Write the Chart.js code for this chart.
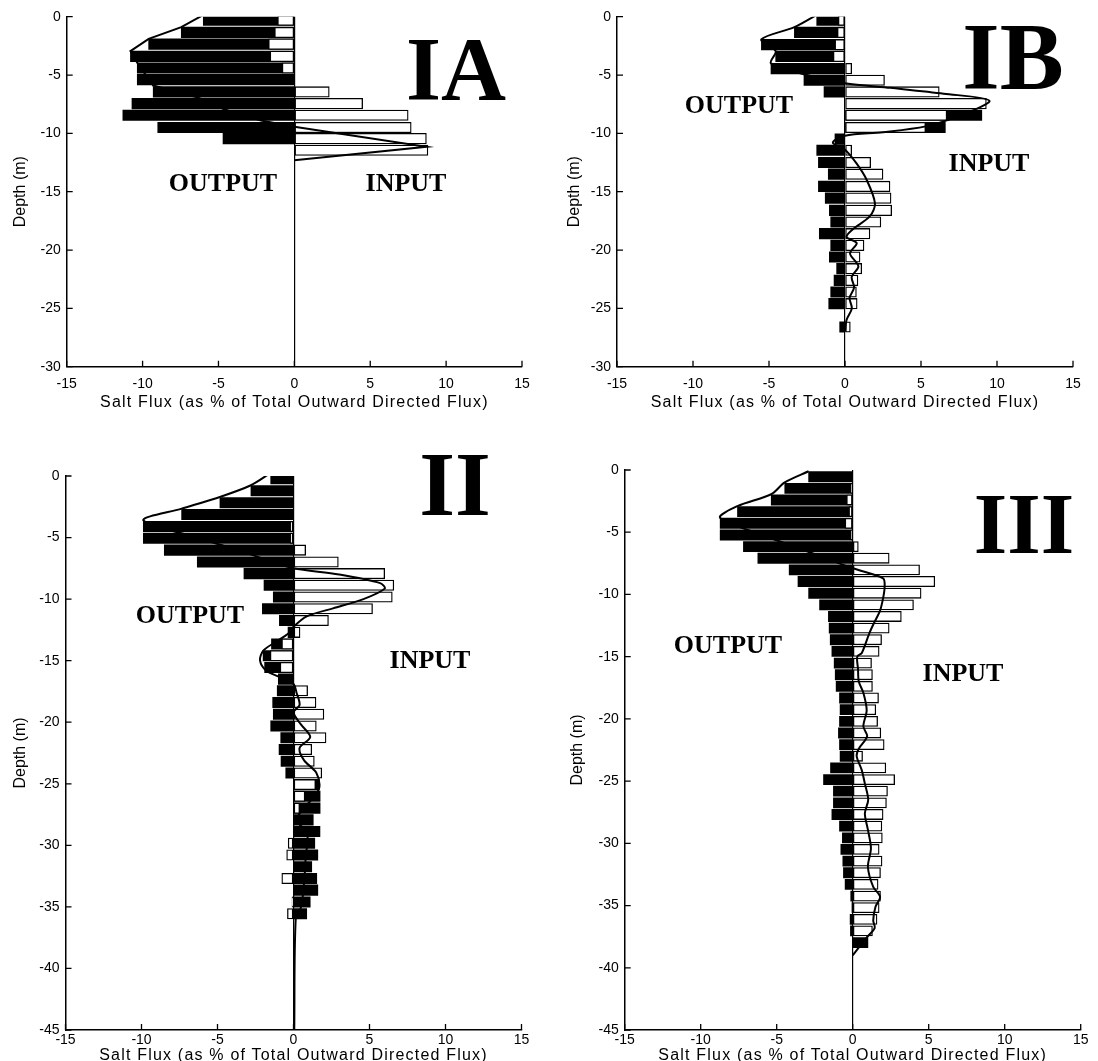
<!DOCTYPE html>
<html>
<head>
<meta charset="utf-8">
<script src="https://cdn.jsdelivr.net/npm/chart.js@4/dist/chart.umd.min.js"></script>
<style>
  html, body { margin: 0; padding: 0; background: #fff; }
  #stage { position: relative; width: 1098px; height: 1061px; overflow: hidden; background: #fff; }
  .pane { position: absolute; }
  .lbl { position: absolute; font-family: 'Liberation Serif', 'Times New Roman', serif; font-weight: bold; color: #000; line-height: 1; white-space: nowrap; transform: translate(-50%, -50%); }
  .xt { position: absolute; font-family: 'Liberation Sans', Arial, sans-serif; font-size: 16px; letter-spacing: 1.2px; color: #000; line-height: 1; white-space: nowrap; transform: translate(-50%, -50%); }
</style>
</head>
<body>
<div id="stage"></div>
<script>
// ---------------- DATA ----------------
const xTitle = 'Salt Flux (as % of Total Outward Directed Flux)';
const yTitle = 'Depth (m)';

// Panel IA
const depthIA = [-0.3,-1.35,-2.35,-3.4,-4.4,-5.4,-6.45,-7.45,-8.45,-9.5,-10.45,-11.45];
const outIA   = [-6.0,-7.45,-9.6,-10.8,-10.35,-10.35,-9.3,-10.7,-11.3,-9.0,-4.7,0];
const inIA    = [-1.1,-1.3,-1.7,-1.6,-0.8,0,2.3,4.5,7.5,7.7,8.7,8.8];
const netIAx  = [-6.0,-7.45,-9.6,-10.8,-10.35,-9.3,-6.4,-4.7,-2.2,0,8.7,0];
const netIAy  = [0.15,-0.9,-1.9,-2.95,-3.95,-5.9,-6.9,-7.9,-8.9,-9.43,-11.15,-12.3];

// Panel IB
const depthIB = [-0.3,-1.35,-2.4,-3.4,-4.45,-5.45,-6.45,-7.45,-8.45,-9.5,-10.5,-11.45,-12.5,-13.5,-14.55,-15.55,-16.6,-17.6,-18.6,-19.6,-20.6,-21.6,-22.6,-23.6,-24.6,-26.6];
const outIB   = [-1.86,-3.33,-5.5,-4.56,-4.87,-2.7,-1.38,0,9.0,6.6,-0.66,-1.86,-1.75,-1.1,-1.75,-1.3,-1.03,-0.94,-1.69,-0.94,-1.03,-0.55,-0.72,-0.94,-1.07,-0.35];
const inIB    = [-0.44,-0.5,-0.66,-0.77,0.44,2.6,6.2,9.3,6.7,5.3,0,0.44,1.69,2.5,2.96,3.03,3.07,2.36,1.64,1.25,0.99,1.1,0.85,0.75,0.8,0.35];
const netIBx  = [-1.86,-3.33,-5.5,-4.56,-4.87,-2.5,0,3.0,6.5,9.5,7.5,5.3,2.5,0,-0.8,0,0.77,1.43,1.97,1.64,0.44,0.11,0.77,0.33,0.88,0.44,0.6,0.3,0.45,0.1,0];
const netIBy  = [0.15,-0.9,-1.95,-2.95,-4.0,-5.0,-5.7,-6.1,-6.6,-7.2,-8.5,-9.4,-9.9,-10.2,-10.8,-11.4,-12.6,-14.0,-16.0,-17.1,-18.3,-18.9,-19.4,-20.3,-21.4,-22.3,-23.2,-24.1,-25.0,-26.0,-27.0];

// Panel II
const depthII = [-0.22,-1.2,-2.17,-3.13,-4.1,-5.05,-6.02,-6.98,-7.93,-8.88,-9.83,-10.79,-11.74,-12.7,-13.65,-14.6,-15.55,-16.5,-17.45,-18.4,-19.36,-20.31,-21.26,-22.21,-23.17,-24.12,-25.07,-26.02,-26.98,-27.93,-28.88,-29.83,-30.79,-31.74,-32.69,-33.64,-34.6,-35.55];
const outII   = [-1.5,-2.8,-4.84,-7.36,-9.88,-9.88,-8.5,-6.33,-3.26,-1.94,-1.33,-2.05,-0.93,-0.36,-1.45,-2.0,-1.9,-1.0,-1.07,-1.37,-1.33,-1.5,-0.84,-0.95,-0.82,-0.51,1.7,1.75,1.75,1.3,1.74,1.4,1.6,1.2,1.53,1.6,1.1,0.87];
const inII    = [0,0,0,0,-0.23,-0.23,0.8,2.95,6.0,6.6,6.5,5.2,2.3,0.43,-0.77,-1.53,-0.88,0,0.93,1.48,2.0,1.5,2.14,1.2,1.37,1.86,1.45,0.75,0.4,0,0,-0.35,-0.45,0,-0.77,0,-0.1,-0.4];
const netIIx  = [-1.5,-2.8,-4.84,-7.36,-9.88,-6.4,-3.7,-1.3,0,3.0,5.7,6.0,4.6,2.6,0.87,0,-0.34,-1.2,-2.0,-2.2,-1.8,-0.8,0,0.2,0.4,0,0.5,1.1,0.4,0.7,1.5,1.7,1.3,0.2,0.9,0.8,0.7,0.5,0.15,0.05];
const netIIy  = [0.25,-0.75,-1.7,-2.65,-3.6,-5.0,-6.0,-7.0,-7.5,-8.0,-8.7,-9.15,-10.0,-10.75,-11.4,-12.25,-12.8,-13.5,-14.2,-15.0,-15.8,-16.4,-16.9,-17.6,-18.6,-19.2,-20.2,-21.2,-22.1,-23.1,-24.1,-25.3,-26.1,-27.9,-29.0,-31.0,-33.0,-35.0,-35.9,-45];

// Panel III
const depthIII = [-0.54,-1.48,-2.41,-3.35,-4.28,-5.22,-6.16,-7.09,-8.03,-8.96,-9.9,-10.84,-11.77,-12.71,-13.64,-14.58,-15.52,-16.45,-17.39,-18.32,-19.26,-20.2,-21.13,-22.07,-23.0,-23.94,-24.88,-25.81,-26.75,-27.68,-28.62,-29.56,-30.49,-31.43,-32.36,-33.3,-34.24,-35.17,-36.11,-37.04,-37.98];
const outIII  = [-2.9,-4.47,-5.36,-7.58,-8.72,-8.72,-7.19,-6.24,-4.18,-3.6,-2.9,-2.18,-1.6,-1.55,-1.48,-1.37,-1.22,-1.15,-1.09,-0.87,-0.83,-0.87,-0.94,-0.87,-0.83,-1.46,-1.92,-1.27,-1.27,-1.37,-0.87,-0.68,-0.78,-0.65,-0.61,-0.5,-0.13,-0.05,-0.17,-0.15,1.0];
const inIII   = [0,-0.1,-0.4,-0.25,-0.5,-0.1,0.37,2.4,4.4,5.4,4.5,4.0,3.2,2.4,1.9,1.74,1.24,1.3,1.3,1.7,1.52,1.64,1.85,2.07,0.65,2.18,2.76,2.29,2.22,2.0,1.92,1.95,1.74,1.93,1.83,1.67,1.83,1.74,1.6,1.3,0];
const netIIIx = [-2.9,-4.47,-5.36,-7.58,-8.72,-5.8,-3.66,-1.57,0,2.0,2.1,2.0,1.8,1.4,1.1,0.6,0.3,0.35,0.4,0.7,0.92,0.7,0.95,0.4,0.26,0.59,0.8,1.02,0.8,1.0,1.2,1.0,1.35,1.8,1.5,1.35,1.45,0.9,0];
const netIIIy = [-0.1,-1.0,-1.95,-2.9,-3.85,-5.28,-6.24,-7.19,-7.9,-8.7,-9.4,-10.3,-11.3,-12.3,-13.1,-14.7,-15.0,-16.0,-17.0,-17.9,-19.3,-20.6,-21.4,-22.4,-23.0,-24.1,-25.2,-26.5,-27.6,-28.9,-30.4,-31.9,-33.5,-34.3,-35.1,-36.2,-36.8,-37.6,-39.0];

// ---------------- LAYOUT / STYLE ----------------
const tickFont = { family: "'Liberation Sans', Arial, sans-serif", size: 14 };
const titleFont = { family: "'Liberation Sans', Arial, sans-serif", size: 16 };

const panels = [
  { name:'IA', left:0, top:0, w:549, h:402, padL:7, plotL:66.7, plotT:16.7, plotR:522, plotB:366.7, ymin:-30, titleY:402, tickPad:9,
    depth:depthIA, out:outIA, inp:inIA, nx:netIAx, ny:netIAy, tension:0, bar:10.5 },
  { name:'IB', left:549, top:0, w:549, h:402, padL:12.4, plotL:68, plotT:16.7, plotR:524, plotB:366.7, ymin:-30, titleY:402, tickPad:9,
    depth:depthIB, out:outIB, inp:inIB, nx:netIBx, ny:netIBy, tension:0.3, bar:10.5 },
  { name:'II', left:0, top:402, w:549, h:659, padL:7, plotL:65.5, plotT:74, plotR:521.5, plotB:628, ymin:-45, titleY:1055, tickPad:2,
    depth:depthII, out:outII, inp:inII, nx:netIIx, ny:netIIy, tension:0.3, bar:10.4 },
  { name:'III', left:549, top:402, w:549, h:659, padL:15.4, plotL:75.7, plotT:68, plotR:531.7, plotB:628, ymin:-45, titleY:1055, tickPad:2,
    depth:depthIII, out:outIII, inp:inIII, nx:netIIIx, ny:netIIIy, tension:0.3, bar:10.2 }
];

const labels = [
  { t:'IA', x:456, y:70, s:90 },
  { t:'OUTPUT', x:223, y:183, s:26 },
  { t:'INPUT', x:406, y:183, s:26 },
  { t:'IB', x:1013, y:57, s:96 },
  { t:'OUTPUT', x:739, y:105, s:26 },
  { t:'INPUT', x:989, y:163, s:26 },
  { t:'II', x:455, y:484, s:92 },
  { t:'OUTPUT', x:190, y:615, s:26 },
  { t:'INPUT', x:430, y:660, s:26 },
  { t:'III', x:1024, y:524, s:86 },
  { t:'OUTPUT', x:728, y:645, s:26 },
  { t:'INPUT', x:963, y:673, s:26 }
];

// ---------------- DRAW ----------------
const inwardTicks = {
  id: 'inwardTicks',
  afterDraw(chart) {
    const ctx = chart.ctx, a = chart.chartArea;
    const xs = chart.scales.x, ys = chart.scales.y;
    ctx.save();
    ctx.strokeStyle = '#000';
    ctx.lineWidth = 1.3;
    ctx.beginPath();
    xs.ticks.forEach(t => {
      const p = xs.getPixelForValue(t.value);
      ctx.moveTo(p, a.bottom); ctx.lineTo(p, a.bottom - 6);
    });
    ys.ticks.forEach(t => {
      const p = ys.getPixelForValue(t.value);
      ctx.moveTo(a.left, p); ctx.lineTo(a.left + 6, p);
    });
    ctx.stroke();
    ctx.restore();
  }
};

function bars(depth, vals) {
  return depth.map((d, i) => ({ y: d, x: vals[i] === 0 ? null : vals[i] }));
}
function pts(xs, ys) {
  return xs.map((v, i) => ({ x: v, y: ys[i] }));
}

const stage = document.getElementById('stage');

panels.forEach(p => {
  const wrap = document.createElement('div');
  wrap.className = 'pane';
  wrap.style.left = p.left + 'px';
  wrap.style.top = p.top + 'px';
  wrap.style.width = p.w + 'px';
  wrap.style.height = p.h + 'px';
  const cv = document.createElement('canvas');
  cv.width = p.w; cv.height = p.h;
  cv.style.width = p.w + 'px'; cv.style.height = p.h + 'px';
  wrap.appendChild(cv);
  stage.appendChild(wrap);

  new Chart(cv, {
    type: 'bar',
    data: {
      datasets: [
        { type: 'line', label: 'Net', indexAxis: 'y', data: pts(p.nx, p.ny), borderColor: '#000', borderWidth: 2,
          pointRadius: 0, fill: false, tension: p.tension, order: 0 },
        { label: 'Input', data: bars(p.depth, p.inp), backgroundColor: '#fff', borderColor: '#000', borderWidth: 1.3,
          borderSkipped: false, grouped: false, barThickness: p.bar, order: 1 },
        { label: 'Output', data: bars(p.depth, p.out), backgroundColor: '#000', borderColor: '#000', borderWidth: 0,
          grouped: false, barThickness: p.bar, order: 2 }
      ]
    },
    options: {
      indexAxis: 'y',
      responsive: false,
      animation: false,
      layout: { padding: { left: p.padL, top: p.plotT, right: p.w - p.plotR, bottom: 0 } },
      plugins: { legend: { display: false }, tooltip: { enabled: false } },
      scales: {
        x: {
          type: 'linear', position: 'bottom', min: -15, max: 15, offset: false,
          ticks: { stepSize: 5, font: tickFont, color: '#000', padding: p.tickPad, maxRotation: 0 },
          grid: { drawTicks: false, lineWidth: 1.2, offset: false,
                  color: c => (c.tick && c.tick.value === 0) ? '#000' : 'rgba(0,0,0,0)' },
          border: { display: true, color: '#000', width: 1.5 },
          title: { display: false },
          afterFit: s => { s.height = p.h - p.plotB; }
        },
        y: {
          type: 'linear', position: 'left', min: p.ymin, max: 0, offset: false,
          ticks: { stepSize: 5, font: tickFont, color: '#000', padding: 6 },
          grid: { display: false, drawTicks: false, offset: false },
          border: { display: true, color: '#000', width: 1.5 },
          title: { display: true, text: yTitle, font: titleFont, color: '#000', padding: 4 },
          afterFit: s => { s.width = p.plotL - p.padL; }
        }
      }
    },
    plugins: [inwardTicks]
  });

  const t = document.createElement('div');
  t.className = 'xt';
  t.textContent = xTitle;
  t.style.left = (p.left + (p.plotL + p.plotR) / 2) + 'px';
  t.style.top = p.titleY + 'px';
  stage.appendChild(t);
});

labels.forEach(l => {
  const d = document.createElement('div');
  d.className = 'lbl';
  d.textContent = l.t;
  d.style.left = l.x + 'px';
  d.style.top = l.y + 'px';
  d.style.fontSize = l.s + 'px';
  stage.appendChild(d);
});
</script>
</body>
</html>
